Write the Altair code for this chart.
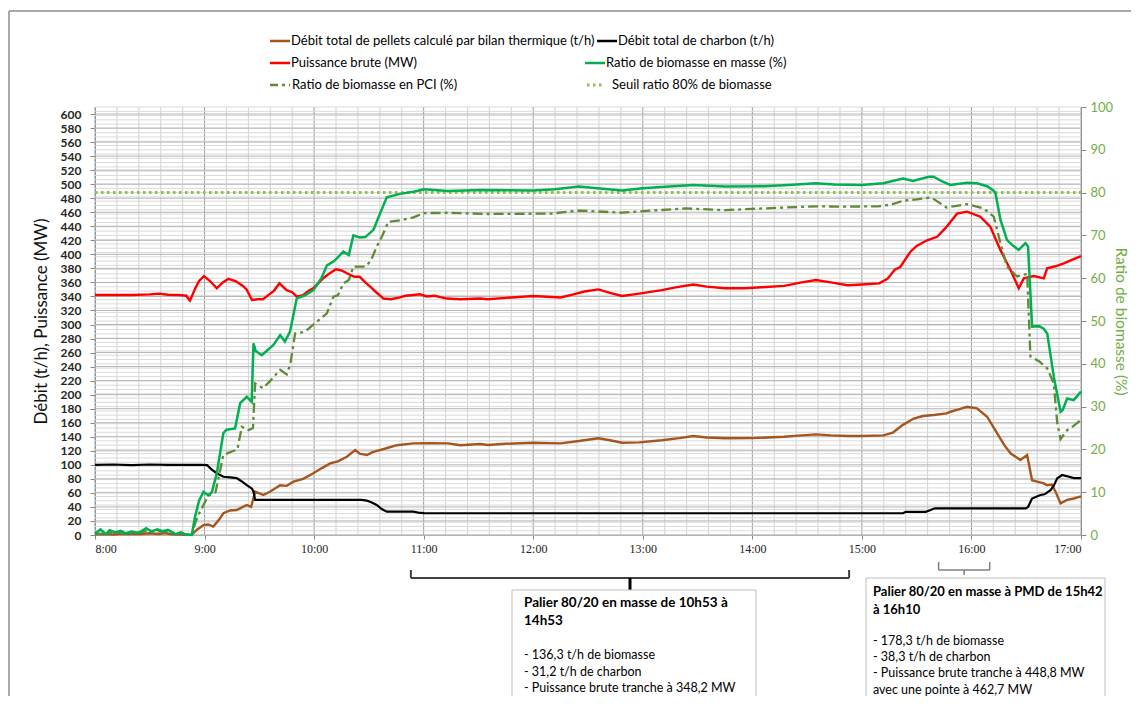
import altair as alt
import pandas as pd
import numpy as np

FONT = "Lato"

# ---------------- data (time = minutes after 8:00) ----------------
pellets_t = [0, 5, 10, 15, 20, 25, 30, 35, 38, 42, 46, 50, 53, 56, 59.4, 62, 64.8, 68, 70.3, 74, 77.6, 81, 83.1, 85.5,
             87.7, 92.2, 96, 101.4, 105, 108.7, 114, 119.6, 124, 128.8, 133, 137.9, 142.5, 145, 148.9, 152, 156, 160,
             165.3, 174.4, 183.6, 193.4, 200, 211, 215, 225, 240, 255, 265, 275.7, 282, 288.7, 298, 310.4, 320, 327.7,
             335, 345, 360, 377.5, 387, 394.9, 403, 412.2, 420, 431.7, 437, 442.5, 448.4, 453.4, 459.3, 466.4, 468.5,
             473, 477.6, 483, 488.6, 494.1, 498, 501.4, 506.8, 510.5, 513.2, 516, 519.6, 521.4, 524, 526, 528.8, 532.4,
             536, 540]
pellets_v = [0.5, 1.5, 0.8, 1.8, 1.2, 1.5, 2.5, 1.5, 2.8, 1.0, 0.5, 0.2, 0.5, 8, 14, 15, 12, 22, 31, 35, 35.6, 40, 42.8,
             40, 61.8, 57, 62, 71, 70, 76, 80, 88, 95, 102, 105, 111.5, 121, 116, 114, 118, 121, 124, 128, 130.6, 131,
             130.6, 128, 129.7, 128.3, 130, 131.5, 130.6, 134, 137.8, 135, 131.5, 132, 135, 138, 141, 139, 137.8, 138,
             140, 142, 143.4, 142, 141, 141, 142, 146, 157, 166, 169.6, 171, 173.4, 175.7, 179, 182.8, 180.5, 168.6,
             145, 128, 116.4, 107, 114, 78, 76, 73.6, 71, 72, 62, 45, 50, 52, 55]

charbon_t = [0, 10, 20, 30, 40, 50, 58, 61.4, 64, 66.7, 70.3, 74, 77.6, 80, 83.1, 86, 86.8, 87.7, 100, 120, 140, 146,
             148.9, 151, 154.3, 157, 159.8, 174.4, 177, 180, 200, 300, 400, 442.5, 444, 455, 458, 460, 480, 500, 509.7,
             511, 513.2, 517.8, 520, 523.3, 525, 527, 529.7, 532, 536.1, 540]
charbon_v = [100, 100.5, 99.5, 100.5, 100, 100, 100, 99.5, 93, 88, 83, 82, 81, 77, 71, 66, 61.8, 50, 50, 50, 50, 50,
             49, 47, 42.8, 37, 33.3, 33.3, 32, 31.2, 31, 31, 31, 31, 33, 33, 36, 38, 38, 38, 38, 40, 52, 57, 58, 64, 70,
             80.8, 85.5, 84, 81, 81]

puissance_t = [0, 10, 20, 30, 35, 40, 46, 50, 52, 55, 57, 59.7, 63, 66.7, 70, 73, 77, 81, 83, 86, 89, 92, 96, 98, 101,
               105, 108, 110.5, 114, 117, 119.5, 122, 125, 128, 132, 135, 138, 142, 145, 148, 150.7, 154, 158, 162,
               167, 170, 174.4, 178, 181.7, 186, 192.7, 200, 211, 215, 225, 240, 255, 262, 268, 275.7, 282, 288.7,
               298, 310.4, 318, 327.7, 335, 345, 355.9, 365, 377.5, 387, 394.9, 403, 412.2, 420, 429.5, 434, 438, 441,
               446.6, 450, 455.7, 461.2, 466, 472.1, 477.6, 484.9, 490.4, 495.9, 501.4, 505.9, 508.7, 514.1, 519.6,
               521.5, 526, 530.6, 535, 540]
puissance_v = [342, 342, 342, 343, 344, 342.5, 342, 341, 334, 352, 362, 369, 362, 351.5, 360, 365, 362, 355, 350, 335,
               336, 336, 344, 348, 358.6, 349, 346, 339.6, 342, 348, 351.5, 358, 366, 372, 378.6, 377, 373, 368, 368,
               360, 354, 346, 337, 336, 338.6, 341, 342, 343, 340, 341, 337, 336, 337, 336, 338, 340.6, 338.6, 343,
               347, 350, 345, 340.6, 344, 349, 353, 357, 354, 351.6, 351.6, 353, 355, 360, 363.4, 360, 356, 357, 358.6,
               365, 378, 382, 403.8, 412, 420, 425, 438, 458, 460.8, 453.6, 439, 406, 377.6, 351.6, 365.8, 369, 365.8,
               380, 383, 387, 392, 397.6]

masse_t = [0, 3, 6, 8, 11, 14, 17, 20, 24, 28, 31, 34, 37, 40, 44, 47, 50, 53, 54.8, 57, 59.4, 62, 64, 66.7, 70.3, 72,
           76.7, 79.5, 83.1, 85.8, 86.8, 88, 91.3, 94, 97.7, 101.4, 104, 106.8, 110.5, 115, 119.6, 124, 127, 131, 136,
           139, 141.5, 145, 148, 152.5, 156.2, 159.8, 167, 174.4, 180, 193.4, 211, 240, 252, 265, 275, 288.7, 300, 310,
           327.7, 345, 366.7, 380, 394.9, 405, 419.8, 431.7, 442.5, 448, 456.6, 459.3, 464, 468.5, 477.6, 483, 488.6,
           492, 493.2, 495.9, 499.5, 503, 505.9, 509.6, 511, 513.2, 517, 519.6, 521.5, 525.1, 528.8, 530, 532.4, 536,
           540]
masse_v = [0.3, 1.3, 0.2, 1.1, 0.6, 1.0, 0.4, 0.8, 0.5, 1.6, 0.8, 1.3, 0.9, 1.2, 0.2, 0.6, 0.1, 0.0, 4.3, 8, 10.1, 9.3,
           10, 14.4, 23.8, 24.6, 24.9, 30.8, 32.3, 31.1, 44.8, 43, 42, 43, 44.4, 46.7, 45.2, 47.5, 55.3, 56, 57.2, 60,
           63, 64, 66.2, 65.4, 70, 69.5, 69.6, 71.3, 75.2, 78.9, 79.7, 80.2, 80.8, 80.4, 80.6, 80.5, 80.8, 81.4, 81,
           80.5, 81, 81.3, 81.8, 81.4, 81.5, 81.8, 82.2, 81.9, 81.8, 82.2, 83.3, 82.7, 83.7, 83.7, 82.6, 81.8, 82.3,
           82.2, 81.5, 80.5, 79.8, 73.6, 68.9, 67.5, 66.6, 68.2, 67.4, 48.7, 48.8, 48.2, 47.1, 37, 28.8, 29.2, 31.9,
           31.5, 33.5]

pci_t = [0, 10, 20, 30, 40, 47, 53, 54.8, 57, 59.4, 62, 66, 70.3, 75, 78, 80.4, 84, 86.5, 87.7, 92, 96, 101.4, 105,
         107, 109.6, 115, 121.4, 127, 130.6, 133, 136, 139, 141.5, 148, 151, 154.3, 157, 160.7, 167, 174.4, 180, 193.4,
         215, 250, 265, 275, 288.7, 305, 323.4, 345, 360, 377.5, 395, 410, 429, 436, 442.5, 450, 456.6, 459, 466.4,
         470, 477.6, 486.7, 492.2, 495.9, 499.5, 505, 510.5, 512.3, 517, 521.5, 525.1, 527, 528.8, 532.4, 536, 540]
pci_v = [0.2, 0.5, 0.4, 1.0, 0.7, 0.3, 0, 2.7, 5, 7, 9.2, 10, 18.7, 19.5, 20, 25.3, 24.5, 25, 35.4, 34.3, 36, 38.6,
         37.5, 40, 47.1, 47.5, 49.8, 51.8, 55.7, 56, 58.8, 59.6, 62.7, 62.7, 64, 67.4, 69.6, 73.2, 73.5, 74.2, 75.2,
         75.3, 75, 75.1, 75.8, 75.6, 75.3, 75.8, 76.3, 75.9, 76.2, 76.5, 76.8, 76.7, 76.8, 77.2, 78.1, 78.4, 78.8,
         78.6, 76.5, 76.8, 77.3, 76.3, 74.4, 68.2, 62.7, 60.4, 61, 41.7, 40.6, 38.9, 35.4, 26.1, 22.4, 24.5, 25.5,
         26.9]

seuil_t = [0, 540]
seuil_v = [80, 80]

x_hours = list(range(0, 541, 60))
x_minor = [m for m in range(0, 541, 12) if m % 60]
left_ticks = list(range(0, 601, 20))
right_ticks = list(range(0, 101, 10))
right_minor = list(range(0, 101))

palier1 = [173, 413]   # 10h53 -> 14h53
palier2 = [462, 490]   # 15h42 -> 16h10

legend_labels = [
    "Débit total de pellets calculé par bilan thermique (t/h)",
    "Débit total de charbon (t/h)",
    "Puissance brute (MW)",
    "Ratio de biomasse en masse (%)",
    "Ratio de biomasse en PCI (%)",
    "Seuil ratio 80% de biomasse",
]
box1_title = ["Palier 80/20 en masse de 10h53 à", "14h53"]
box1_lines = ["- 136,3 t/h de biomasse", "- 31,2 t/h de charbon", "- Puissance brute tranche à 348,2 MW"]
box2_title = ["Palier 80/20 en masse à PMD de 15h42", "à 16h10"]
box2_lines = ["- 178,3 t/h de biomasse", "- 38,3 t/h de charbon", "- Puissance brute tranche à 448,8 MW",
              "avec une pointe à 462,7 MW"]

# ---------------- styles ----------------
C_BROWN = "#A5561F"
C_BLACK = "#000000"
C_RED = "#FF0000"
C_GREEN = "#00B050"
C_PCI = "#5E8C36"
C_SEUIL = "#8DC051"
C_AXISGREEN = "#72AE45"
PCI_DASH = [10, 4, 3, 4]
SEUIL_DASH = [2.5, 3.5]

xs = alt.Scale(domain=[0, 540], nice=False, zero=False)
ls = alt.Scale(domain=[0, 610], nice=False, zero=True)
rs = alt.Scale(domain=[0, 100], nice=False, zero=True)

one = pd.DataFrame({"k": [0]})


def df(t, v):
    return pd.DataFrame({"t": t, "v": v})


AX_X = alt.Axis(
    values=x_hours, labelExpr="floor(datum.value/60)+8 + ':00'", grid=False, title=None,
    labelFont="Liberation Serif", labelFontSize=12, labelColor="#222", tickSize=4, tickColor="#888",
    domainColor="#888", labelPadding=4)
AX_L = alt.Axis(
    values=left_ticks, title="Débit (t/h), Puissance (MW)", titleFont=FONT, titleFontSize=17,
    titleFontWeight="normal", titleColor="#111", titlePadding=10, labelFont=FONT, labelFontWeight="bold",
    labelFontSize=12, labelColor="#262626", tickSize=5, tickColor="#888", domainColor="#888", labelPadding=9,
    grid=False)
AX_R = alt.Axis(
    orient="right", values=right_ticks, title="Ratio de biomasse (%)", titleFont=FONT, titleFontSize=15.5,
    titleFontWeight="normal", titleColor=C_AXISGREEN, titlePadding=0, labelFont=FONT, labelFontSize=13,
    labelColor=C_AXISGREEN, tickSize=5, tickColor="#888", domainColor="#888", labelPadding=4, grid=False)


def XF(field="t"):
    return alt.X(f"{field}:Q", scale=xs, axis=AX_X, title=None)


def YL():
    return alt.Y("v:Q", scale=ls, axis=AX_L)


def YR():
    return alt.Y("v:Q", scale=rs, axis=AX_R)


# grid
vminor = alt.Chart(pd.DataFrame({"t": x_minor})).mark_rule(color="#d2d2d2", strokeWidth=1).encode(x=XF())
vmajor = alt.Chart(pd.DataFrame({"t": x_hours})).mark_rule(color="#9c9c9c", strokeWidth=1).encode(x=XF())
hminor = alt.Chart(pd.DataFrame({"v": np.array(right_minor) * 6.1})).mark_rule(
    color="#dadada", strokeWidth=1).encode(y=YL())
hmajor = alt.Chart(pd.DataFrame({"v": left_ticks})).mark_rule(
    color="#b4b4b4", strokeWidth=1).encode(y=YL())

brown = alt.Chart(df(pellets_t, pellets_v)).mark_line(color=C_BROWN, strokeWidth=2.4).encode(
    x=XF(), y=YL(), order="t:Q")
black = alt.Chart(df(charbon_t, charbon_v)).mark_line(color=C_BLACK, strokeWidth=2.2).encode(
    x=XF(), y=YL(), order="t:Q")
red = alt.Chart(df(puissance_t, puissance_v)).mark_line(color=C_RED, strokeWidth=2.4).encode(
    x=XF(), y=YL(), order="t:Q")

seuil = alt.Chart(df(seuil_t, seuil_v)).mark_line(color=C_SEUIL, strokeWidth=3, strokeDash=SEUIL_DASH).encode(
    x=XF(), y=YR())
pci = alt.Chart(df(pci_t, pci_v)).mark_line(color=C_PCI, strokeWidth=2.3, strokeDash=PCI_DASH).encode(
    x=XF(), y=YR(), order="t:Q")
green = alt.Chart(df(masse_t, masse_v)).mark_line(color=C_GREEN, strokeWidth=2.5).encode(
    x=XF(), y=YR(), order="t:Q")


# ---------------- decorations (pixel offsets from plot origin) ----------------
def hline(x1, x2, y, color, width=2.5, dash=None):
    kw = dict(color=color, strokeWidth=width)
    if dash:
        kw["strokeDash"] = dash
    return alt.Chart(one).mark_rule(**kw).encode(x=alt.value(x1), x2=alt.value(x2), y=alt.value(y))


def label(x, y, txt, size=13, weight="normal", color="#000", baseline="middle", line_height=None):
    kw = dict(align="left", baseline=baseline, font=FONT, fontSize=size, fontWeight=weight, color=color,
              text=txt)
    if line_height:
        kw["lineHeight"] = line_height
    return alt.Chart(one).mark_text(**kw).encode(x=alt.value(x), y=alt.value(y))


legend = [
    hline(175, 195, -66, C_BROWN), label(196, -66, legend_labels[0]),
    hline(502, 522, -66, C_BLACK), label(523, -66, legend_labels[1]),
    hline(175, 195, -44, C_RED), label(196, -44, legend_labels[2]),
    hline(490, 510, -44, C_GREEN), label(511, -44, legend_labels[3]),
    hline(175, 195, -22, C_PCI, dash=[8, 4, 3, 4]), label(197, -22, legend_labels[4]),
    hline(492, 510, -22, C_SEUIL, width=3, dash=SEUIL_DASH), label(517, -22, legend_labels[5]),
]

frame = [
    alt.Chart(one).mark_rule(color="#8c8c8c", strokeWidth=1.5).encode(
        x=alt.value(-86), x2=alt.value(1060), y=alt.value(-96)),
    alt.Chart(one).mark_rule(color="#8c8c8c", strokeWidth=1.5).encode(
        x=alt.value(-86), y=alt.value(-96), y2=alt.value(620)),
]


def bracket(span, y_end, y_bar, y_tick, color, width, tick_color, tick_width):
    d = pd.DataFrame({"t": [span[0]], "t2": [span[1]], "tm": [(span[0] + span[1]) / 2]})
    base = alt.Chart(d)
    return [
        base.mark_rule(color=color, strokeWidth=width).encode(x=XF("t"), x2="t2:Q", y=alt.value(y_bar)),
        base.mark_rule(color=color, strokeWidth=width).encode(x=XF("t"), y=alt.value(y_end), y2=alt.value(y_bar)),
        base.mark_rule(color=color, strokeWidth=width).encode(x=XF("t2"), y=alt.value(y_end), y2=alt.value(y_bar)),
        base.mark_rule(color=tick_color, strokeWidth=tick_width).encode(
            x=XF("tm"), y=alt.value(y_bar), y2=alt.value(y_tick)),
    ]


brackets = bracket(palier1, 463, 471, 483, "#404040", 2, "#000", 3) + \
    bracket(palier2, 455, 463, 468, "#808080", 1.5, "#808080", 1.5)


def box(x1, x2, y1):
    return alt.Chart(one).mark_rect(fill="white", stroke="#bfbfbf", strokeWidth=1).encode(
        x=alt.value(x1), x2=alt.value(x2), y=alt.value(y1), y2=alt.value(640))


boxes = [
    box(417, 661, 483),
    label(429, 500, box1_title, size=13.5, weight="bold", baseline="alphabetic", line_height=18),
    label(429, 552, box1_lines, size=12.5, baseline="alphabetic", line_height=16.5),
    box(771, 1010, 471),
    label(778, 489, box2_title, size=13, weight="bold", baseline="alphabetic", line_height=18),
    label(778, 538, box2_lines, size=12.5, baseline="alphabetic", line_height=16.2),
]

left = alt.layer(vminor, vmajor, hminor, hmajor, brown, black, red, *brackets, *boxes, *legend, *frame)
right = alt.layer(seuil, pci, green)

chart = alt.layer(left, right).resolve_scale(y="independent").properties(
    width=986, height=428,
    padding={"left": 87, "top": 99, "right": 50, "bottom": 161},
    autosize=alt.AutoSizeParams(type="none"),
    background="white",
).configure_view(stroke=None)

chart.save("out.html", embed_options={"renderer": "svg", "actions": False})
